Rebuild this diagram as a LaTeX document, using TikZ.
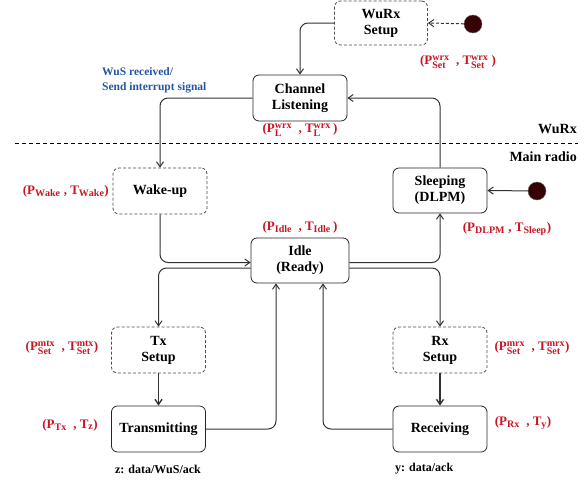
\documentclass[tikz,border=0pt]{standalone}
\usepackage{fontspec}
\setmainfont{Liberation Serif}
\DeclareMathSizes{13}{13}{10}{8}
\usetikzlibrary{arrows.meta,calc}
\definecolor{lblred}{RGB}{200,20,35}
\definecolor{lblblue}{RGB}{35,85,165}
\definecolor{dotc}{RGB}{55,0,5}
\definecolor{linec}{RGB}{50,50,50}
\newcommand\ps[2]{$^{\mathbf{#1}}_{\mathbf{#2}}$}
\newcommand\pb[1]{$_{\mathbf{#1}}$}
\begin{document}
\begin{tikzpicture}[x=1pt,y=-1pt,
  box/.style={draw=black!85,line width=0.8pt,rounded corners=6pt,minimum width=94pt,minimum height=46pt,align=center,inner sep=2pt,font=\bfseries\fontsize{14}{16}\selectfont},
  dbox/.style={box,draw=black!70,dash pattern=on 3pt off 2pt},
  conn/.style={draw=linec,line width=1pt,rounded corners=8pt,-{Straight Barb[length=5pt,width=7pt]}},
  lbl/.style={text=lblred,font=\bfseries\fontsize{13}{15}\selectfont,inner sep=1pt},
  note/.style={font=\bfseries\fontsize{12}{14}\selectfont,inner sep=1pt},
  dot/.style={circle,fill=dotc,draw=black!60,minimum size=18pt,inner sep=0pt}]
\useasboundingbox (0,0) rectangle (585,482);
% nodes
\node[dbox,minimum width=93pt,minimum height=44pt] (wurx) at (381,23) {WuRx\\Setup};
\node[box] (chan) at (300,98) {Channel\\Listening};
\node[dbox] (wake) at (160,191) {Wake-up};
\node[box,minimum height=45pt] (sleep) at (440,190.5) {Sleeping\\(DLPM)};
\node[box,minimum width=98pt,minimum height=45pt] (idle) at (300,260.5) {Idle\\(Ready)};
\node[dbox] (txs) at (158.5,350) {Tx\\Setup};
\node[box] (tx) at (158.5,429) {Transmitting};
\node[dbox] (rxs) at (440,350) {Rx\\Setup};
\node[box] (rx) at (440,429) {Receiving};
\node[dot] (d1) at (473,24) {};
\node[dot] (d2) at (537,191) {};
% divider
\coordinate (dl) at (15,143.5);
\coordinate (dr) at (578,143.5);
\draw[black,line width=1.6pt,dash pattern=on 4pt off 3pt] (dl) -- (dr);
\node[note,font=\bfseries\fontsize{14}{16}\selectfont,anchor=east] (lwurxz) at (578,129) {WuRx};
\node[note,font=\bfseries\fontsize{14}{16}\selectfont,anchor=east] (lmain) at (578,157) {Main radio};
% connectors
\draw[conn,dash pattern=on 3pt off 2pt,rounded corners=0pt] (d1) -- (wurx.east);
\draw[conn] (wurx.west) -| (chan.north);
\draw[conn] (chan.west) -| (wake.north);
\draw[conn] (sleep.north) |- (chan.east);
\draw[conn,rounded corners=0pt] (d2) -- (sleep.east);
\draw[conn] (wake.south) |- ($(idle.west)+(0,2)$);
\draw[conn] ($(idle.west)+(0,7.5)$) -| (txs.north);
\draw[conn] ($(idle.east)+(0,2)$) -| (sleep.south);
\draw[conn] ($(idle.east)+(0,7.5)$) -| (rxs.north);
\draw[conn,line width=1.4pt,rounded corners=0pt] (txs) -- (tx);
\draw[conn,line width=1.4pt,rounded corners=0pt] (rxs) -- (rx);
\draw[conn] (tx.east) -| ($(idle.south)+(-24,0)$);
\draw[conn] (rx.west) -| ($(idle.south)+(23,0)$);
% labels
\node[lbl] (lwurx) at (458,62) {(P\ps{wrx}{Set}\ \ , T\ps{wrx}{Set}\ )};
\node[lbl] (lchan) at (300,130) {(P\ps{wrx}{L}\ \ , T\ps{wrx}{L}\,)};
\node[lbl,anchor=east] (lwake) at (110,191) {(P\pb{Wake}\ , T\pb{Wake})};
\node[lbl] (ldlpm) at (507,229) {(P\pb{DLPM}\ , T\pb{Sleep})};
\node[lbl] (lidle) at (300,227) {(P\pb{Idle}\ \ , T\pb{Idle}\,)};
\node[lbl] (ltxs) at (62,348) {(P\ps{mtx}{Set}\ \ , T\ps{mtx}{Set})};
\node[lbl] (ltx) at (70,425) {(P\pb{Tx}\ \ , T\pb{z})};
\node[lbl] (lrxs) at (532,348) {(P\ps{mrx}{Set}\ \ , T\ps{mrx}{Set})};
\node[lbl] (lrx) at (523,423) {(P\pb{Rx}\ \ , T\pb{y})};
\node[note,text=lblblue,align=left,anchor=west,font=\bfseries\fontsize{11.5}{15}\selectfont] (lwus) at (101,80) {WuS received/\\Send interrupt signal};
\node[note] (lz) at (158,469) {z: data/WuS/ack};
\node[note,anchor=west] (ly) at (394,469) {y: data/ack};
\end{tikzpicture}
\end{document}
